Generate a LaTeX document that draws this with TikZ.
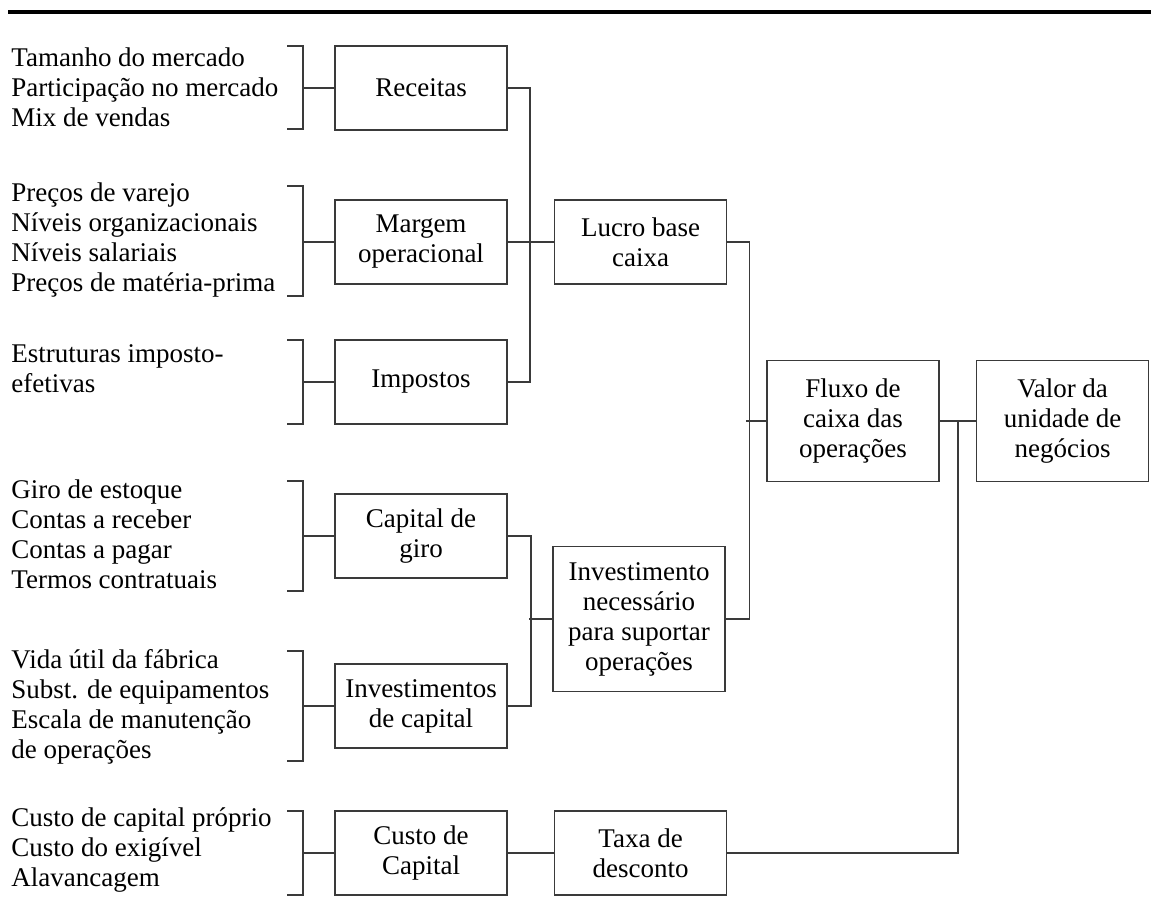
\documentclass[tikz,border=0pt]{standalone}
\usepackage{fontspec}
\setmainfont{Liberation Serif}
\usepackage{tikz}
\usetikzlibrary{calc, positioning}
\definecolor{ink}{HTML}{3A3A3A}

\begin{document}
\begin{tikzpicture}[x=0.5pt, y=-0.5pt, font=\fontsize{13.5pt}{15pt}\selectfont,
    box/.style={draw=ink, line width=0.8pt, minimum width=86pt, minimum height=42pt,
                align=center, inner sep=2pt},
    items/.style={anchor=west, align=left, inner sep=0pt},
    link/.style={draw=ink, line width=0.8pt}]
    \useasboundingbox (0,0) rectangle (1151,916);
    \draw[line width=2pt] (8,12) -- (1151,12);

    % first column
    \node[box] (rec) at (421,88) {Receitas};
    \node[box] (mar) at (421,242) {Margem\\operacional};
    \node[box] (imp) at (421,382) {Impostos};
    \node[box] (cgi) at (421,536) {Capital de\\giro};
    \node[box] (inv) at (421,706) {Investimentos\\de capital};
    \node[box] (cus) at (421,853) {Custo de\\Capital};

    % second and third columns
    \node[box, right=23pt of mar] (luc) {Lucro base\\caixa};
    \node[box, minimum height=72.5pt] (nec) at (639,619)
      {Investimento\\necessário\\para suportar\\operações};
    \node[box, right=23pt of cus] (tax) {Taxa de\\desconto};
    \node[box, minimum height=60.5pt] (flu) at (853,421) {Fluxo de\\caixa das\\operações};
    \node[box, minimum height=60.5pt, right=18pt of flu] (val) {Valor da\\unidade de\\negócios};

    % drivers
    \node[items] (t1) at (11,87) {Tamanho do mercado\\Participação no mercado\\Mix de vendas};
    \node[items] (t2) at (11,240) {Preços de varejo\\Níveis organizacionais\\Níveis salariais\\Preços de matéria-prima};
    \node[items] (t3) at (11,369) {Estruturas imposto-\\efetivas};
    \node[items] (t4) at (11,534) {Giro de estoque\\Contas a receber\\Contas a pagar\\Termos contratuais};
    \node[items] (t5) at (11,707) {Vida útil da fábrica\\Subst. de equipamentos\\Escala de manutenção\\de operações};
    \node[items] (t6) at (11,850) {Custo de capital próprio\\Custo do exigível\\Alavancagem};

    % brackets
    \coordinate (brk) at (303,0);
    \draw[link] (287,46) -| (303,129) -- (287,129);
    \draw[link] (287,186) -| (303,296) -- (287,296);
    \draw[link] (287,340) -| (303,424) -- (287,424);
    \draw[link] (287,481) -| (303,591) -- (287,591);
    \draw[link] (287,651) -| (303,761) -- (287,761);
    \draw[link] (287,811) -| (303,895) -- (287,895);
    \draw[link] (rec.west -| brk) -- (rec);
    \draw[link] (mar.west -| brk) -- (mar);
    \draw[link] (imp.west -| brk) -- (imp);
    \draw[link] (cgi.west -| brk) -- (cgi);
    \draw[link] (inv.west -| brk) -- (inv);
    \draw[link] (cus.west -| brk) -- (cus);

    % connectors
    \draw[link] (rec.east) -- ++(22,0) |- (imp.east);
    \draw[link] (mar) -- (luc);
    \draw[link] (cgi.east) -- ++(23,0) |- (inv.east);
    \draw[link] (nec.west) -- ++(-23,0);
    \draw[link] (luc.east) -- ++(22,0) |- (nec.east);
    \draw[link] (flu.west) -- ++(-20,0);
    \draw[link] (flu) -- (val);
    \draw[link] (cus) -- (tax);
    \coordinate (j3) at ($(flu.east)!0.5!(val.west)$);
    \draw[link] (tax.east) -| (j3);
  \end{tikzpicture}
\end{document}
